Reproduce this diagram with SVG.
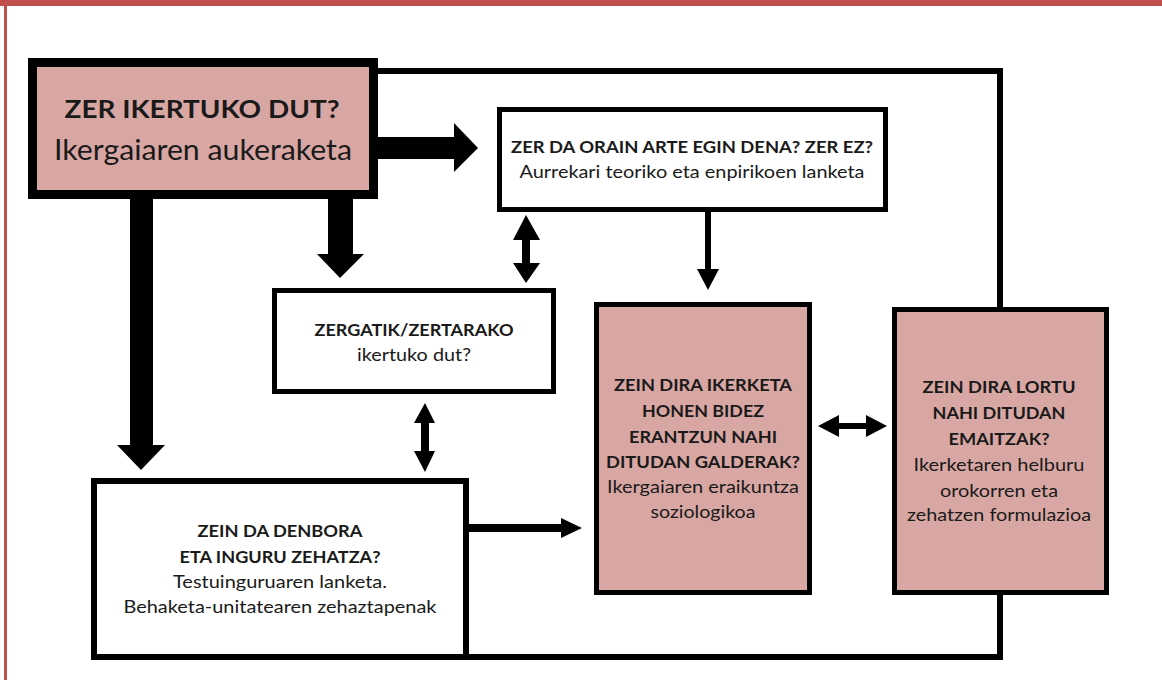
<svg xmlns="http://www.w3.org/2000/svg" width="1162" height="680" viewBox="0 0 1162 680">
<style>
.box{fill:#ffffff;stroke:#000;stroke-width:5}
.pink{fill:#d9a7a3;stroke:#000;stroke-width:5}
.t{font-family:Lato,"Open Sans","Liberation Sans",sans-serif;fill:#1a1a1a;text-anchor:middle}
.b{font-weight:bold}
.line{fill:none;stroke:#000;stroke-width:6}
.arr{fill:#000}
</style>
<rect x="0" y="0" width="1162" height="680" fill="#fff"/>
<rect x="0" y="0" width="1162" height="6" fill="#c0504d"/>
<rect x="4" y="0" width="3" height="680" fill="#c0504d"/>

<g id="connectors">
  <path class="line" d="M378 71 L1000 71 L1000 308"/>
  <path class="line" d="M1000 594 L1000 657 L468 657"/>
  <!-- thick right arrow -->
  <polygon class="arr" points="378,137 454,137 454,123 478,148 454,172 454,159 378,159"/>
  <!-- thick down arrow middle -->
  <polygon class="arr" points="328,198 353,198 353,254 364,254 340,278 317,254 328,254"/>
  <!-- thick down arrow left -->
  <polygon class="arr" points="130,198 153,198 153,445 165,445 141,470 117,445 130,445"/>
  <!-- ZER DA down arrow -->
  <polygon class="arr" points="705,212 711,212 711,269 719,269 708,290 697,269 705,269"/>
  <!-- double arrow ZER DA / ZERGATIK -->
  <polygon class="arr" points="526,215 540,240 530,240 530,263 540,263 526,283 513,263 522,263 522,240 513,240"/>
  <!-- double arrow ZERGATIK / DENBORA -->
  <polygon class="arr" points="425,403 435,423 429,423 429,451 435,451 425,472 414,451 421,451 421,423 414,423"/>
  <!-- DENBORA to QUESTIONS -->
  <polygon class="arr" points="468,524 561,524 561,518 582,528 561,538 561,532 468,532"/>
  <!-- double arrow QUESTIONS / RESULTS -->
  <polygon class="arr" points="818,426 839,415 839,423 866,423 866,415 887,426 866,437 866,429 839,429 839,437"/>
</g>

<g id="node-main">
  <rect x="32.5" y="62.5" width="341" height="132" fill="#d9a7a3" stroke="#000" stroke-width="9"/>
  <text class="t b" x="202" y="118" font-size="25" textLength="275" lengthAdjust="spacingAndGlyphs">ZER IKERTUKO DUT?</text>
  <text class="t" x="203" y="160" font-size="29" textLength="298" lengthAdjust="spacingAndGlyphs">Ikergaiaren aukeraketa</text>
</g>

<g id="node-zerda">
  <rect class="box" x="499.5" y="109.5" width="386" height="100"/>
  <text class="t b" x="692" y="153" font-size="17.5" textLength="362" lengthAdjust="spacingAndGlyphs">ZER DA ORAIN ARTE EGIN DENA? ZER EZ?</text>
  <text class="t" x="692" y="178" font-size="17" textLength="345" lengthAdjust="spacingAndGlyphs">Aurrekari teoriko eta enpirikoen lanketa</text>
</g>

<g id="node-zergatik">
  <rect class="box" x="274.5" y="290.5" width="279" height="101"/>
  <text class="t b" x="414" y="336" font-size="17.5" textLength="199" lengthAdjust="spacingAndGlyphs">ZERGATIK/ZERTARAKO</text>
  <text class="t" x="414" y="361" font-size="17.5" textLength="114" lengthAdjust="spacingAndGlyphs">ikertuko dut?</text>
</g>

<g id="node-denbora">
  <rect x="94" y="481" width="372" height="176" fill="#fff" stroke="#000" stroke-width="6"/>
  <text class="t b" x="280" y="537" font-size="17.5" textLength="165" lengthAdjust="spacingAndGlyphs">ZEIN DA DENBORA</text>
  <text class="t b" x="280" y="563" font-size="17.5" textLength="201" lengthAdjust="spacingAndGlyphs">ETA INGURU ZEHATZA?</text>
  <text class="t" x="280" y="588" font-size="17.5" textLength="214" lengthAdjust="spacingAndGlyphs">Testuinguruaren lanketa.</text>
  <text class="t" x="280" y="613" font-size="17.5" textLength="313" lengthAdjust="spacingAndGlyphs">Behaketa-unitatearen zehaztapenak</text>
</g>

<g id="node-galderak">
  <rect class="pink" x="596.5" y="304.5" width="213" height="288"/>
  <text class="t b" x="703" y="391" font-size="17.5" textLength="178" lengthAdjust="spacingAndGlyphs">ZEIN DIRA IKERKETA</text>
  <text class="t b" x="703" y="417" font-size="17.5" textLength="122" lengthAdjust="spacingAndGlyphs">HONEN BIDEZ</text>
  <text class="t b" x="703" y="443" font-size="17.5" textLength="148" lengthAdjust="spacingAndGlyphs">ERANTZUN NAHI</text>
  <text class="t b" x="703" y="468" font-size="17.5" textLength="194" lengthAdjust="spacingAndGlyphs">DITUDAN GALDERAK?</text>
  <text class="t" x="703" y="493" font-size="17.5" textLength="192" lengthAdjust="spacingAndGlyphs">Ikergaiaren eraikuntza</text>
  <text class="t" x="703" y="518" font-size="17.5" textLength="105" lengthAdjust="spacingAndGlyphs">soziologikoa</text>
</g>

<g id="node-emaitzak">
  <rect class="pink" x="894.5" y="309.5" width="212" height="283"/>
  <text class="t b" x="999" y="393" font-size="17.5" textLength="153" lengthAdjust="spacingAndGlyphs">ZEIN DIRA LORTU</text>
  <text class="t b" x="999" y="419" font-size="17.5" textLength="133" lengthAdjust="spacingAndGlyphs">NAHI DITUDAN</text>
  <text class="t b" x="999" y="445" font-size="17.5" textLength="101" lengthAdjust="spacingAndGlyphs">EMAITZAK?</text>
  <text class="t" x="999" y="471" font-size="17.5" textLength="171" lengthAdjust="spacingAndGlyphs">Ikerketaren helburu</text>
  <text class="t" x="999" y="497" font-size="17.5" textLength="118" lengthAdjust="spacingAndGlyphs">orokorren eta</text>
  <text class="t" x="999" y="521" font-size="17.5" textLength="184" lengthAdjust="spacingAndGlyphs">zehatzen formulazioa</text>
</g>
</svg>
